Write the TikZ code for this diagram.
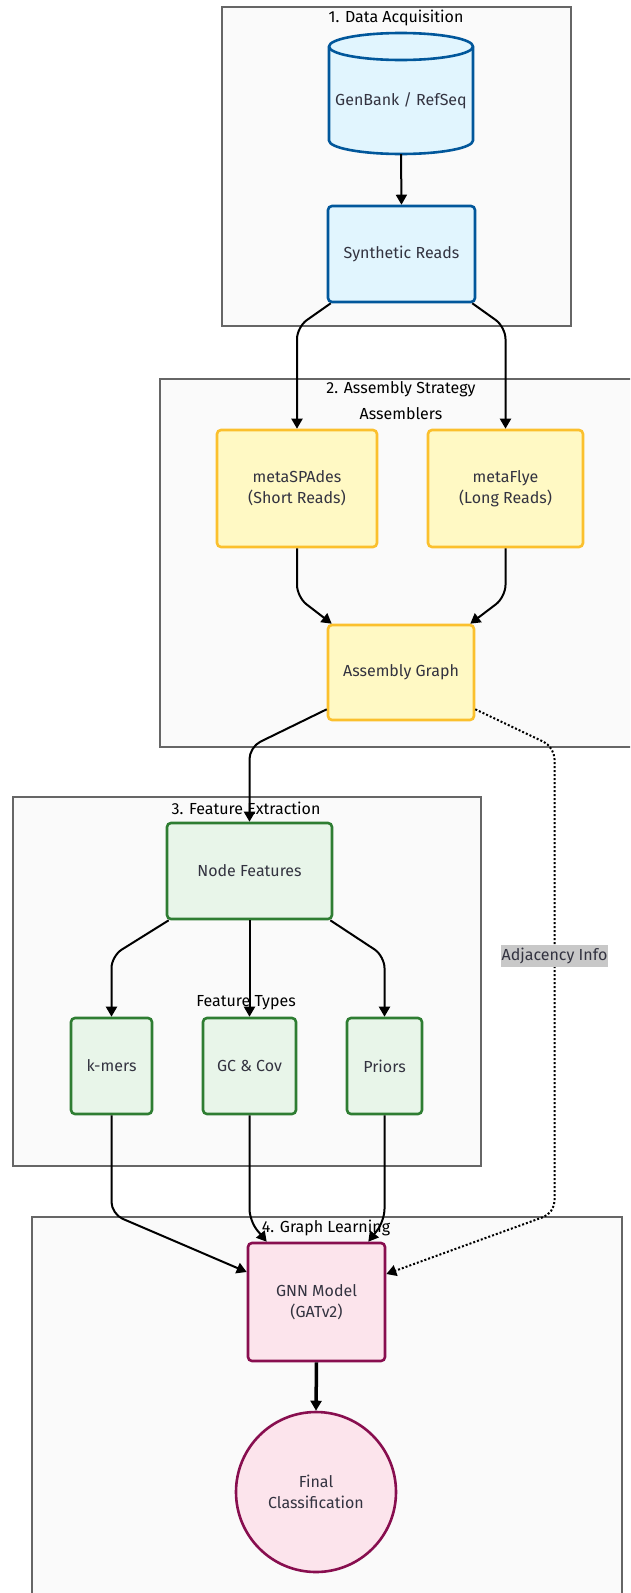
\documentclass[tikz,border=0pt]{standalone}
\usepackage{fontspec}
\setmainfont{Fira Sans}
\usetikzlibrary{arrows.meta,calc}

\definecolor{bluefill}{HTML}{E1F5FE}
\definecolor{bluedraw}{HTML}{01579B}
\definecolor{yelfill}{HTML}{FFF9C4}
\definecolor{yeldraw}{HTML}{FBC02D}
\definecolor{grnfill}{HTML}{E8F5E9}
\definecolor{grndraw}{HTML}{2E7D32}
\definecolor{pnkfill}{HTML}{FCE4EC}
\definecolor{pnkdraw}{HTML}{880E4F}
\definecolor{clfill}{HTML}{FAFAFA}
\definecolor{cldraw}{HTML}{666666}
\definecolor{txt}{HTML}{333340}
\definecolor{lblbg}{HTML}{C8C8C8}

\tikzset{
  base/.style={font=\fontsize{16}{21}\selectfont, text=txt, align=center, inner sep=0pt},
  box/.style={base, rounded corners=4pt, line width=2.6pt},
  bluebox/.style={box, fill=bluefill, draw=bluedraw},
  yelbox/.style={box, fill=yelfill, draw=yeldraw},
  grnbox/.style={box, fill=grnfill, draw=grndraw},
  pnkbox/.style={box, fill=pnkfill, draw=pnkdraw},
  cluster/.style={fill=clfill, draw=cldraw, line width=2pt},
  cltitle/.style={font=\fontsize{16}{19}\selectfont, text=black, inner sep=0pt},
  arr/.style={line width=2pt, draw=black, rounded corners=12pt,
    -{Triangle[length=10pt,width=11pt]}},
  dotarr/.style={arr, dash pattern=on 2pt off 2pt},
  tag/.style={base, fill=lblbg, inner xsep=1pt, inner ysep=3pt}
}

\begin{document}
\begin{tikzpicture}[x=1pt, y=-1pt]
\useasboundingbox (0,0) rectangle (630,1593);
\clip (0,0) rectangle (630,1593);
\fill[white] (0,0) rectangle (630,1593);

% stage frames
\draw[cluster] (222,7) rectangle (571,326);
\node[cltitle] (t1) at (396,18) {1. Data Acquisition};
\draw[cluster] (160,379) rectangle (642,747);
\node[cltitle] (t2) at (401,389) {2. Assembly Strategy};
\node[cltitle] (t2b) at (401,414) {Assemblers};
\draw[cluster] (13,797) rectangle (481,1166);
\node[cltitle] (t3) at (246,808) {3. Feature Extraction};
\node[cltitle] (t3b) at (246,1003) {Feature Types};
\draw[cluster] (32,1217) rectangle (622,1640);
\node[cltitle] (t4) at (326,1228) {4. Graph Learning};

% reference database (cylinder)
\filldraw[fill=bluefill, draw=bluedraw, line width=2.6pt]
  (329,46.5) -- (329,140.5) arc (180:0:72 and 13.5)
  -- (473,46.5) arc (0:-180:72 and 13.5) -- cycle;
\draw[bluedraw, line width=2.6pt] (329,46.5) arc (180:0:72 and 13.5);
\node[minimum width=144pt, minimum height=121pt, inner sep=0pt] (db) at (401,93.5) {};
\node[base] (dbtext) at (401,101) {GenBank / RefSeq};

% nodes
\node[bluebox, minimum width=147pt, minimum height=96pt] (sr) at (401.5,254) {Synthetic Reads};
\node[yelbox, minimum width=160pt, minimum height=117pt] (ms) at (297,488.5) {metaSPAdes\\(Short Reads)};
\node[yelbox, minimum width=155pt, minimum height=117pt] (mf) at (505.5,488.5) {metaFlye\\(Long Reads)};
\node[yelbox, minimum width=146pt, minimum height=95pt] (ag) at (401,672.5) {Assembly Graph};
\node[grnbox, minimum width=165pt, minimum height=96pt] (nf) at (249.5,871) {Node Features};
\node[grnbox, minimum width=81pt, minimum height=96pt] (km) at (111.5,1066) {k-mers};
\node[grnbox, minimum width=93pt, minimum height=96pt] (gc) at (249.5,1066) {GC \& Cov};
\node[grnbox, minimum width=75pt, minimum height=96pt] (pr) at (384.5,1066) {Priors};
\node[pnkbox, minimum width=137pt, minimum height=118pt] (gnn) at (316.5,1302) {GNN Model\\(GATv2)};
\node[base, circle, fill=pnkfill, draw=pnkdraw, line width=2.6pt, minimum size=160pt] (fc) at (316,1492) {Final\\Classification};

% connectors
\draw[arr] (db.south) -- (sr.north);
\draw[arr] ([xshift=4pt]sr.south west) -- (297,327) -- (ms.north);
\draw[arr] ([xshift=-4pt]sr.south east) -- (505.5,327) -- (mf.north);
\draw[arr] (ms.south) -- (297,597) -- ([xshift=5pt]ag.north west);
\draw[arr] (mf.south) -- (505.5,597) -- ([xshift=-5pt]ag.north east);
\draw[arr] ([yshift=12pt]ag.south west) -- (249.5,747) -- (nf.north);
\draw[arr] ([xshift=3pt]nf.south west) -- (111.5,956) -- (km.north);
\draw[arr] (nf.south) -- (gc.north);
\draw[arr] ([xshift=-3pt]nf.south east) -- (384.5,956) -- (pr.north);
\draw[arr] (km.south) -- (111.5,1214) -- ([yshift=30pt]gnn.west);
\draw[arr] (gc.south) -- (249.5,1221) -- ([xshift=20pt]gnn.north west);
\draw[arr] (pr.south) -- (384.5,1221) -- ([xshift=-18pt]gnn.north east);
\draw[dotarr] ([yshift=12pt]ag.south east) -- (554.5,747) -- (554.5,1213) -- ([yshift=28pt]gnn.east);
\node[tag] (adj) at (554.5,956) {Adjacency Info};
\draw[line width=3.5pt, -{Triangle[length=10pt,width=11pt]}] (gnn.south) -- (fc.north);
\end{tikzpicture}
\end{document}
